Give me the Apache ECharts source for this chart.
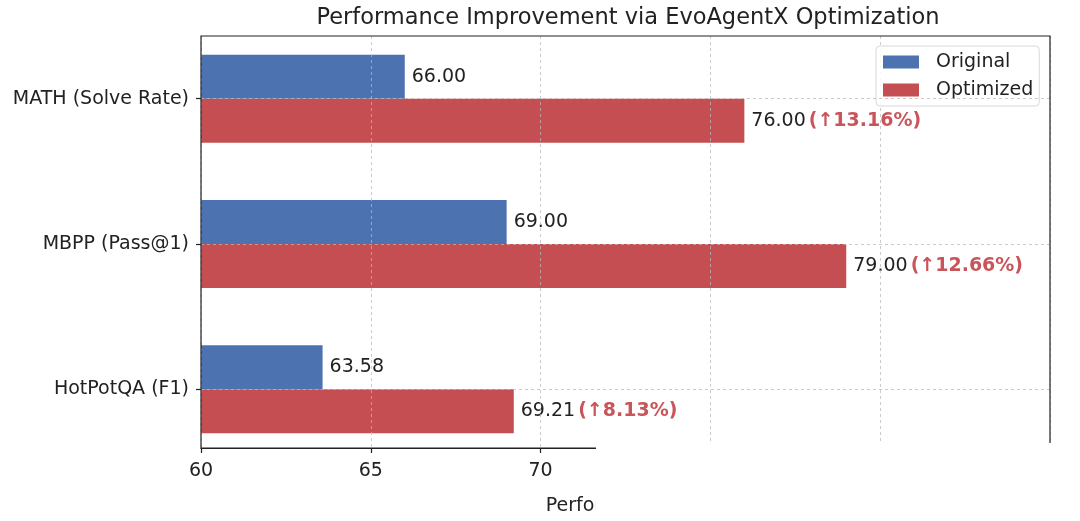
<!DOCTYPE html>
<html>
<head>
<meta charset="utf-8">
<title>Performance Improvement via EvoAgentX Optimization</title>
<script src="https://cdn.jsdelivr.net/npm/echarts@6/dist/echarts.min.js"></script>
<style>
    html, body { margin: 0; padding: 0; background: #fff; }
    #chart { width: 1080px; height: 521px; }
</style>
</head>
<body>
<div id="chart"></div>
<script>
// Chart data
const categories = ['MATH (Solve Rate)', 'MBPP (Pass@1)', 'HotPotQA (F1)'];
const originalScores = [66.00, 69.00, 63.58];
const optimizedScores = [76.00, 79.00, 69.21];
const improvements = ['13.16', '12.66', '8.13'];
const xTicks = { min: 60, max: 85, step: 5 };

const font = 'DejaVu Sans';
const ink = '#222';
const fs = 19;
const gridLine = { color: 'rgba(185,185,185,0.75)', width: 1, type: [3, 3] };

const chart = echarts.init(document.getElementById('chart'));

chart.setOption({
    animation: false,
    textStyle: { fontFamily: font },
    title: {
        text: 'Performance Improvement via EvoAgentX Optimization',
        left: 623,
        textAlign: 'center',
        top: 2,
        textStyle: { fontSize: 22.5, fontWeight: 'normal', color: ink, fontFamily: font }
    },
    legend: {
        data: ['Original', 'Optimized'],
        orient: 'vertical',
        left: 876,
        top: 46,
        icon: 'rect',
        itemWidth: 36,
        itemHeight: 13,
        itemGap: 8,
        padding: [6, 6, 6, 7],
        backgroundColor: 'rgba(255,255,255,0.85)',
        borderColor: '#d8d8d8',
        borderWidth: 1,
        borderRadius: 4,
        textStyle: { fontSize: fs, color: ink, lineHeight: 20, padding: [0, 0, 0, 12], fontFamily: font }
    },
    grid: [
        // bars
        { left: 201, right: 30, top: 26, height: 436 },
        // frame, x axis and grid lines
        { left: 201, right: 30, top: 36, height: 416, show: true, z: 10,
          borderColor: ink, borderWidth: 1.2, backgroundColor: 'transparent' }
    ],
    xAxis: [
        { gridIndex: 0, type: 'value', min: xTicks.min, max: xTicks.max, show: false },
        {
            gridIndex: 1, type: 'value', min: xTicks.min, max: xTicks.max, interval: xTicks.step, z: 3,
            name: 'Performance Score',
            nameLocation: 'middle',
            nameGap: 49,
            nameTextStyle: { fontSize: fs, color: ink, fontFamily: font, padding: [0, 0, 0, 20] },
            axisLine: { show: true, lineStyle: { color: ink, width: 1.2 } },
            axisTick: { show: true, length: 5, lineStyle: { color: ink, width: 1.2 } },
            axisLabel: { fontSize: fs, color: ink, margin: 14, fontFamily: font },
            splitLine: { show: true, lineStyle: gridLine }
        }
    ],
    yAxis: [
        {
            gridIndex: 0, type: 'category', data: categories, inverse: true,
            axisLine: { show: false },
            axisTick: { show: true, alignWithLabel: true, length: 5, lineStyle: { color: ink, width: 1.2 } },
            axisLabel: { fontSize: fs, color: ink, margin: 12, fontFamily: font },
            splitLine: { show: false }
        },
        { gridIndex: 1, type: 'value', min: 0, max: 1, show: false }
    ],
    series: [
        {
            name: 'Original',
            type: 'bar',
            xAxisIndex: 0,
            yAxisIndex: 0,
            data: originalScores,
            barWidth: 44,
            barGap: '0%',
            itemStyle: { color: '#4c72b0' },
            label: {
                show: true,
                position: 'right',
                distance: 7,
                fontSize: fs,
                color: ink,
                fontFamily: font,
                formatter: p => p.value.toFixed(2)
            }
        },
        {
            name: 'Optimized',
            type: 'bar',
            xAxisIndex: 0,
            yAxisIndex: 0,
            data: optimizedScores,
            barWidth: 44,
            barGap: '0%',
            itemStyle: { color: '#c44e52' },
            label: {
                show: true,
                position: 'right',
                distance: 7,
                fontFamily: font,
                formatter: p => `{v|${p.value.toFixed(2)}}{p|(↑${improvements[p.dataIndex]}%)}`,
                rich: {
                    v: { fontSize: fs, color: ink, fontFamily: font },
                    p: { fontSize: fs, color: '#c9555a', fontWeight: 'bold', fontFamily: font, padding: [0, 0, 0, 3] }
                }
            }
        },
        {
            // horizontal grid lines at the category ticks
            name: 'ygrid',
            type: 'line',
            xAxisIndex: 0,
            yAxisIndex: 0,
            data: [],
            markLine: {
                silent: true,
                symbol: 'none',
                label: { show: false },
                lineStyle: gridLine,
                data: categories.map(c => ({ yAxis: c }))
            }
        }
    ],
    graphic: [
        // faded area of the source picture (bottom right)
        { type: 'rect', z: 100, shape: { x: 596, y: 443, width: 484, height: 78 }, style: { fill: '#fff' } }
    ]
});

window.addEventListener('resize', () => chart.resize());
</script>
</body>
</html>
